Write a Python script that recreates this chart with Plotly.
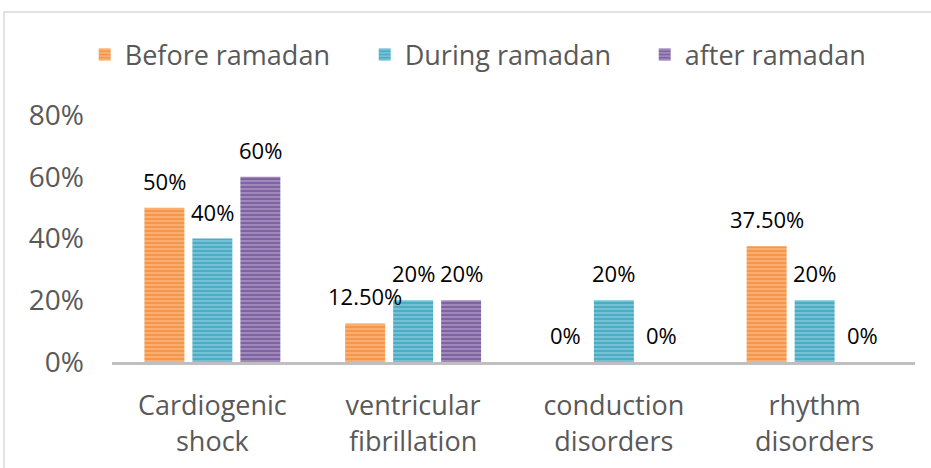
import plotly.graph_objects as go

categories = ["Cardiogenic<br>shock", "ventricular<br>fibrillation", "conduction<br>disorders", "rhythm<br>disorders"]
before = [0.50, 0.125, 0.0, 0.375]
during = [0.40, 0.20, 0.20, 0.20]
after = [0.60, 0.20, 0.0, 0.0]
before_text = ["50%", "12.50%", "0%", "37.50%"]
during_text = ["40%", "20%", "20%", "20%"]
after_text = ["60%", "20%", "0%", "0%"]

series = [
    ("Before ramadan", before, before_text, "#F79646", "#FCCFAA"),
    ("During ramadan", during, during_text, "#4BACC6", "#ABDAE7"),
    ("after ramadan", after, after_text, "#8064A2", "#C5B6D8"),
]

fig = go.Figure()
slot_px = 48
for i, (name, vals, txt, col, light) in enumerate(series):
    fig.add_trace(go.Bar(
        x=categories, y=vals, name=name,
        marker=dict(color=col, line=dict(width=0),
                    pattern=dict(shape="-", fgcolor=light, bgcolor=col, size=4, solidity=0.45)),
    ))
    for c, v, t in zip(categories, vals, txt):
        fig.add_annotation(x=c, y=v, text=t, showarrow=False, xref="x", yref="y",
                           xshift=(i - 1) * slot_px, yshift=27, yanchor="middle",
                           font=dict(size=22, color="#000000", family="Open Sans"))

fig.update_layout(
    width=931, height=468,
    margin=dict(l=112, r=16, t=115, b=106, autoexpand=False),
    paper_bgcolor="white", plot_bgcolor="white",
    barmode="group", bargap=0.283, bargroupgap=0.167,
    font=dict(family="Open Sans", color="#595959"),
    legend=dict(orientation="h", x=-0.034, y=1.243, xanchor="left", yanchor="middle",
                font=dict(size=27, color="#595959"), traceorder="normal",
                entrywidth=235, entrywidthmode="pixels",
                bgcolor="rgba(0,0,0,0)"),
    showlegend=True,
)
fig.update_yaxes(range=[0, 0.8], tickvals=[0, 0.2, 0.4, 0.6, 0.8],
                 ticktext=["0%", "20%", "40%", "60%", "80%"],
                 showgrid=False, zeroline=False, showline=False, automargin=False,
                 tickfont=dict(size=28, color="#595959"), ticks="", ticklabelstandoff=27)
fig.update_xaxes(showgrid=False, showline=True, linecolor="#BFBFBF", linewidth=3, automargin=False,
                 tickfont=dict(size=27, color="#595959"), ticks="", ticklabelstandoff=18)
fig.add_shape(type="rect", xref="paper", yref="paper",
              x0=-0.1345, x1=1.1, y0=-0.5, y1=1.417,
              line=dict(color="#D9D9D9", width=1.5), fillcolor="rgba(0,0,0,0)", layer="below")

fig.write_html("out.html", config={"displayModeBar": False},
               post_script="document.body.style.margin='0';")
